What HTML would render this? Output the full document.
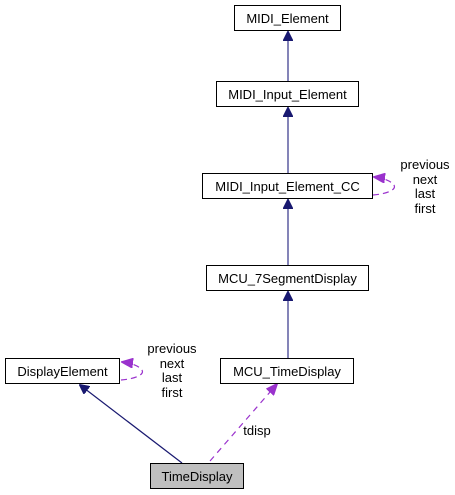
<!DOCTYPE html>
<html><head><style>
body{margin:0;background:#fff;width:455px;height:495px;overflow:hidden}
svg{position:absolute;left:0;top:0}
text{font-family:"Liberation Sans",sans-serif;font-size:13px;fill:#000}
</style></head><body>
<svg width="455" height="495" viewBox="0 0 455 495">
<defs>
<marker id="nb" markerWidth="10" markerHeight="10" refX="9" refY="5" orient="auto" markerUnits="userSpaceOnUse"><path d="M0,0 L10,5 L0,10 z" fill="#191970" stroke="#191970"/></marker>
<marker id="pu" markerWidth="12" markerHeight="10" refX="11" refY="5" orient="auto" markerUnits="userSpaceOnUse"><path d="M0,0 L12,5 L0,10 z" fill="#9a32cd" stroke="#9a32cd"/></marker>
</defs>
<g stroke="#5b5ba0" stroke-width="1.5" fill="none">
<line x1="288" y1="81" x2="288" y2="32" marker-end="url(#nb)"/>
<line x1="288" y1="173" x2="288" y2="108" marker-end="url(#nb)"/>
<line x1="288" y1="265" x2="288" y2="200" marker-end="url(#nb)"/>
<line x1="288" y1="358" x2="288" y2="292" marker-end="url(#nb)"/>
</g>
<line x1="182" y1="463" x2="80" y2="385" stroke="#191970" stroke-width="1.2" marker-end="url(#nb)"/>
<line x1="210" y1="461" x2="277" y2="384" stroke="#9a32cd" stroke-width="1.2" stroke-dasharray="6,5" marker-end="url(#pu)"/>
<path d="M121,380 C135,379 148,374 140,368 C136,365 131,363 122,362" stroke="#9a32cd" stroke-width="1.2" stroke-dasharray="6,4" fill="none" marker-end="url(#pu)"/>
<path d="M373,195 C387,194 400,189 392,183 C388,180 383,178 374,177" stroke="#9a32cd" stroke-width="1.2" stroke-dasharray="6,4" fill="none" marker-end="url(#pu)"/>
<g stroke="#000" stroke-width="1" fill="#fff">
<rect x="234.5" y="5.5" width="106" height="25"/>
<rect x="216.5" y="81.5" width="142" height="25"/>
<rect x="202.5" y="173.5" width="170" height="25"/>
<rect x="206.5" y="265.5" width="162" height="25"/>
<rect x="220.5" y="358.5" width="133" height="25"/>
<rect x="5.5" y="358.5" width="114" height="25"/>
<rect x="150.5" y="463.5" width="93" height="25" fill="#bfbfbf"/>
</g>
<g text-anchor="middle">
<text x="287.5" y="23">MIDI_Element</text>
<text x="287.5" y="99">MIDI_Input_Element</text>
<text x="287.5" y="191">MIDI_Input_Element_CC</text>
<text x="287.5" y="283">MCU_7SegmentDisplay</text>
<text x="287" y="376">MCU_TimeDisplay</text>
<text x="62.5" y="376">DisplayElement</text>
<text x="197" y="481">TimeDisplay</text>
<text x="425" y="169">previous</text>
<text x="425" y="184">next</text>
<text x="425" y="198">last</text>
<text x="425" y="213">first</text>
<text x="172" y="353">previous</text>
<text x="172" y="368">next</text>
<text x="172" y="382">last</text>
<text x="172" y="397">first</text>
<text x="257" y="435">tdisp</text>
</g>
</svg>
</body></html>
